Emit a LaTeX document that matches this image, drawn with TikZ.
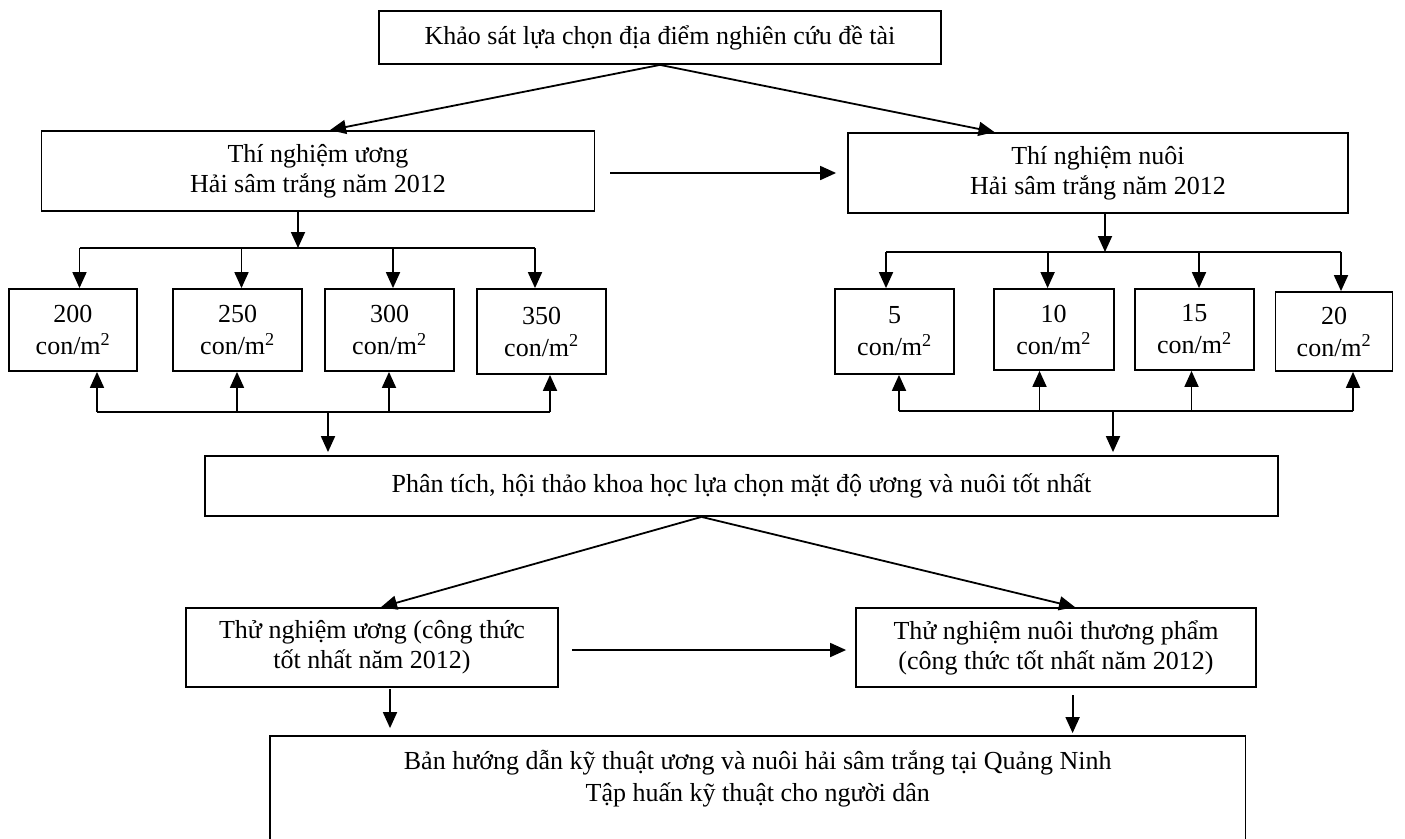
\documentclass[tikz,border=0pt]{standalone}
\usepackage{fontspec}
\setmainfont{Liberation Serif}
\usetikzlibrary{arrows.meta,calc}
\begin{document}
\begin{tikzpicture}[x=1pt,y=-1pt,
  box/.style={draw,line width=1.8pt,rectangle,inner sep=0pt,align=center,
    font=\fontsize{26}{30}\selectfont},
  sbox/.style={box,font=\fontsize{26}{32}\selectfont},
  ln/.style={line width=1.8pt},
  arr/.style={line width=1.8pt,-{Triangle[length=16pt,width=14pt]}},
  txt/.style={align=center,font=\fontsize{26}{32}\selectfont,inner sep=0pt}]
\useasboundingbox (0,0) rectangle (1405,838);
% main boxes
\node[box,minimum width=562pt,minimum height=53pt] (top) at (660,37.5) {Khảo sát lựa chọn địa điểm nghiên cứu đề tài};
\node[box,minimum width=553pt,minimum height=80pt] (ung) at (318,171) {Thí nghiệm ương\\Hải sâm trắng năm 2012};
\node[box,minimum width=500pt,minimum height=80pt] (nuoi) at (1098,173) {Thí nghiệm nuôi\\Hải sâm trắng năm 2012};
% density boxes
\node[sbox,minimum width=128pt,minimum height=82pt] (a200) at (73,330) {200\\con/m\textsuperscript{2}};
\node[sbox,minimum width=129pt,minimum height=82pt] (a250) at (237.5,330) {250\\con/m\textsuperscript{2}};
\node[sbox,minimum width=129pt,minimum height=82pt] (a300) at (389.5,330) {300\\con/m\textsuperscript{2}};
\node[sbox,minimum width=129pt,minimum height=85pt] (a350) at (541.5,331.5) {350\\con/m\textsuperscript{2}};
\node[sbox,minimum width=119pt,minimum height=85pt] (b5) at (894.5,331.5) {5\\con/m\textsuperscript{2}};
\node[sbox,minimum width=120pt,minimum height=81pt] (b10) at (1053.6,329.5) {10\\con/m\textsuperscript{2}};
\node[sbox,minimum width=119pt,minimum height=81pt] (b15) at (1194.4,329.5) {15\\con/m\textsuperscript{2}};
\node[sbox,minimum width=117pt,minimum height=79pt] (b20) at (1334,331.5) {20\\con/m\textsuperscript{2}};
% lower boxes
\node[box,minimum width=1073pt,minimum height=60pt] (phan) at (741.5,486) {Phân tích, hội thảo khoa học lựa chọn mặt độ ương và nuôi tốt nhất};
\node[box,minimum width=372pt,minimum height=79pt] (thu1) at (372,647.5) {Thử nghiệm ương (công thức\\tốt nhất năm 2012)};
\node[box,minimum width=400pt,minimum height=79pt] (thu2) at (1056,647.5) {Thử nghiệm nuôi thương phẩm\\(công thức tốt nhất năm 2012)};
\node[box,minimum width=975.5pt,minimum height=130pt] (final) at (757.75,801) {};
\node[txt] (finaltxt) at (757.75,779) {Bản hướng dẫn kỹ thuật ương và nuôi hải sâm trắng tại Quảng Ninh\\Tập huấn kỹ thuật cho người dân};
% top arrows
\draw[arr] (top.south) -- ([xshift=12pt]ung.north);
\draw[arr] (top.south) -- ([xshift=-103.5pt]nuoi.north);
\draw[arr] ([xshift=15pt,yshift=-2pt]ung.east) -- ([xshift=-11pt]nuoi.west);
% left distribution
\coordinate (ubus) at (298,248);
\draw[arr] (ung.south -| ubus) -- (ubus);
\draw[ln] (79.5,248) -- (535,248);
\draw[arr] (79.5,248) -- (79.5,248 |- a200.north);
\draw[arr] (241.5,248) -- (241.5,248 |- a250.north);
\draw[arr] (393,248) -- (393,248 |- a300.north);
\draw[arr] (535,248) -- (535,248 |- a350.north);
% right distribution
\coordinate (nbus) at (1105,252);
\draw[arr] (nuoi.south -| nbus) -- (nbus);
\draw[ln] (886,252) -- (1341,252);
\draw[arr] (886,252) -- (886,252 |- b5.north);
\draw[arr] (1047.6,252) -- (1047.6,252 |- b10.north);
\draw[arr] (1199,252) -- (1199,252 |- b15.north);
\draw[arr] (1341,252) -- (1341,252 |- b20.north);
% left collection
\draw[ln] (97,412) -- (550,412);
\draw[arr] (97,412) -- (97,412 |- a200.south);
\draw[arr] (237,412) -- (237,412 |- a250.south);
\draw[arr] (389,412) -- (389,412 |- a300.south);
\draw[arr] (550,412) -- (550,412 |- a350.south);
\coordinate (lc) at (328,412);
\draw[arr] (lc) -- ([yshift=3pt]phan.north -| lc);
% right collection
\draw[ln] (899,411) -- (1353,411);
\draw[arr] (899,411) -- (899,411 |- b5.south);
\draw[arr] (1039.5,411) -- (1039.5,411 |- b10.south);
\draw[arr] (1191.5,411) -- (1191.5,411 |- b15.south);
\draw[arr] (1353,411) -- (1353,411 |- b20.south);
\coordinate (rc) at (1113,411);
\draw[arr] (rc) -- ([yshift=3pt]phan.north -| rc);
% lower arrows
\draw[arr] ([xshift=-40pt]phan.south) -- ([xshift=9pt]thu1.north);
\draw[arr] ([xshift=-40pt]phan.south) -- ([xshift=19pt]thu2.north);
\draw[arr] ([xshift=13pt,yshift=-2.5pt]thu1.east) -- ([xshift=-9pt,yshift=-2.5pt]thu2.west);
\coordinate (d1) at (390,689);
\coordinate (d2) at (1072.6,695);
\draw[arr] (d1) -- ([yshift=7pt]final.north -| d1);
\draw[arr] (d2) -- ([yshift=2pt]final.north -| d2);
\end{tikzpicture}
\end{document}
